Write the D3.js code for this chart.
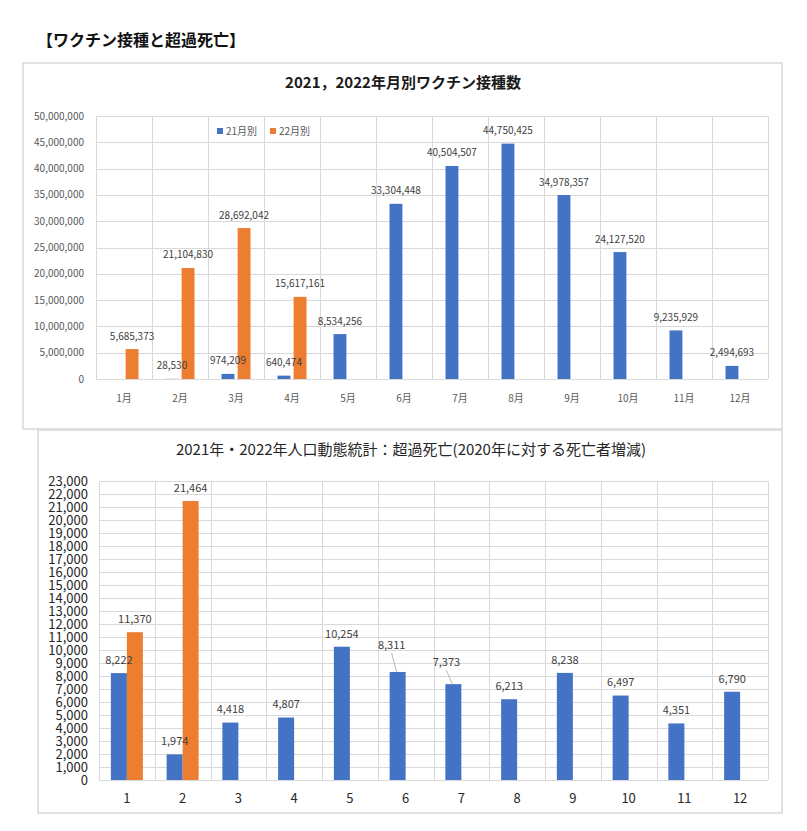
<!DOCTYPE html>
<html>
<head>
<meta charset="utf-8">
<script src="https://cdn.jsdelivr.net/npm/d3@7"></script>
<style>
  body { margin: 0; background: #fff; }
  svg { display: block; font-family: "Noto Sans CJK JP", "Noto Sans", sans-serif; }
  .grid line { stroke: #d9d9d9; stroke-width: 1; shape-rendering: crispEdges; }
  .panel { fill: #fff; stroke: #d9d9d9; stroke-width: 1.5; }
</style>
</head>
<body>
<svg id="chart" width="807" height="831"></svg>
<script>
// --- data: vaccination counts per month ---
const vaxMonths = [ '1月', '2月', '3月', '4月', '5月', '6月', '7月', '8月', '9月', '10月', '11月', '12月' ]
const vaxSeries = [ '21月別', '22月別' ]
const vax2021 = [ null, 28530, 974209, 640474, 8534256, 33304448, 40504507, 44750425, 34978357, 24127520, 9235929, 2494693 ]
const vax2022 = [ 5685373, 21104830, 28692042, 15617161, null, null, null, null, null, null, null, null ]
const vaxTicks = [ 0, 5000000, 10000000, 15000000, 20000000, 25000000, 30000000, 35000000, 40000000, 45000000, 50000000 ]

// --- data: excess deaths vs 2020 ---
const deathMonths = [ '1', '2', '3', '4', '5', '6', '7', '8', '9', '10', '11', '12' ]
const death2021 = [ 8222, 1974, 4418, 4807, 10254, 8311, 7373, 6213, 8238, 6497, 4351, 6790 ]
const death2022 = [ 11370, 21464, null, null, null, null, null, null, null, null, null, null ]
const deathTicks = d3.range( 0, 23001, 1000 )

const colors = { a: '#4472c4', b: '#ed7d31' }
const fmt = d3.format( ',' )

const svg = d3.select( '#chart' )

svg.append( 'text' )
    .attr( 'x', 37 )
    .attr( 'y', 46 )
    .attr( 'font-size', 16 )
    .attr( 'font-weight', 'bold' )
    .attr( 'fill', '#111' )
    .text( '【ワクチン接種と超過死亡】' )

// generic grouped bar chart inside a bordered panel
function drawChart( opts ) {
    const p = opts.panel, a = opts.plot

    svg.append( 'rect' ).attr( 'class', 'panel' )
        .attr( 'x', p.x ).attr( 'y', p.y ).attr( 'width', p.w ).attr( 'height', p.h )

    svg.append( 'text' )
        .attr( 'x', opts.titleX )
        .attr( 'y', opts.titleY )
        .attr( 'text-anchor', 'middle' )
        .attr( 'font-size', 15 )
        .attr( 'font-weight', opts.titleBold ? 'bold' : 'normal' )
        .attr( 'fill', opts.titleBold ? '#1a1a1a' : '#262626' )
        .text( opts.title )

    const x0 = d3.scaleBand().domain( opts.categories ).range( [ a.x0, a.x1 ] )
    const bw = x0.bandwidth()
    const x1 = d3.scaleBand().domain( [ 0, 1 ] )
        .range( [ bw / 2 - opts.groupHalf, bw / 2 + opts.groupHalf ] )
        .paddingInner( opts.innerPad )
    const y = d3.scaleLinear().domain( [ 0, opts.max ] ).range( [ a.y1, a.y0 ] )

    const grid = svg.append( 'g' ).attr( 'class', 'grid' )
    grid.selectAll( 'line.h' ).data( opts.ticks ).join( 'line' )
        .attr( 'x1', a.x0 ).attr( 'x2', a.x1 )
        .attr( 'y1', d => Math.round( y( d ) ) + 0.5 ).attr( 'y2', d => Math.round( y( d ) ) + 0.5 )
    grid.selectAll( 'line.v' ).data( opts.categories.concat( [ null ] ) ).join( 'line' )
        .attr( 'x1', d => Math.round( d === null ? a.x1 : x0( d ) ) + 0.5 )
        .attr( 'x2', d => Math.round( d === null ? a.x1 : x0( d ) ) + 0.5 )
        .attr( 'y1', a.y0 ).attr( 'y2', a.y1 )

    // y axis labels
    svg.append( 'g' ).selectAll( 'text' ).data( opts.ticks ).join( 'text' )
        .attr( 'x', opts.yLabelX )
        .attr( 'y', d => y( d ) )
        .attr( 'dy', '0.35em' )
        .attr( 'text-anchor', 'end' )
        .attr( 'font-size', opts.yFont )
        .attr( 'fill', opts.yColor )
        .text( d => fmt( d ) )

    // x axis labels
    svg.append( 'g' ).selectAll( 'text' ).data( opts.categories ).join( 'text' )
        .attr( 'x', d => x0( d ) + bw / 2 )
        .attr( 'y', opts.xLabelY )
        .attr( 'dy', '0.35em' )
        .attr( 'text-anchor', 'middle' )
        .attr( 'font-size', opts.xFont )
        .attr( 'fill', opts.xColor )
        .text( d => d )

    const nudges = opts.nudges || {}
    const bars = svg.append( 'g' ),
          labels = svg.append( 'g' )

    opts.series.forEach( ( values, s ) => {
        const pts = values.map( ( v, i ) => ( { v, i, cat: opts.categories[ i ] } ) ).filter( d => d.v !== null )

        bars.append( 'g' ).selectAll( 'rect' ).data( pts ).join( 'rect' )
            .attr( 'x', d => x0( d.cat ) + x1( s ) )
            .attr( 'width', x1.bandwidth() )
            .attr( 'y', d => y( d.v ) )
            .attr( 'height', d => y( 0 ) - y( d.v ) )
            .attr( 'fill', s === 0 ? colors.a : colors.b )

        pts.forEach( d => {
            const cx = x0( d.cat ) + x1( s ) + x1.bandwidth() / 2,
                  top = y( d.v ),
                  n = s === 0 ? nudges[ d.i ] : null,
                  lx = cx + ( n ? n[0] : 0 ),
                  ly = top - opts.labelGap + ( n ? n[1] : 0 )

            if( n ) {
                labels.append( 'line' )
                    .attr( 'x1', lx ).attr( 'y1', ly + 8 )
                    .attr( 'x2', cx - 1 ).attr( 'y2', top )
                    .attr( 'stroke', '#a6a6a6' ).attr( 'stroke-width', 0.8 )
            }

            labels.append( 'text' )
                .attr( 'x', lx )
                .attr( 'y', ly )
                .attr( 'dy', '0.35em' )
                .attr( 'text-anchor', 'middle' )
                .attr( 'font-size', opts.labelFont )
                .attr( 'fill', '#404040' )
                .text( fmt( d.v ) )
        } )
    } )

    if( opts.legend ) {
        const lg = svg.append( 'g' ).attr( 'transform', `translate( ${opts.legend.x}, ${opts.legend.y} )` )
        opts.legend.labels.forEach( ( label, i ) => {
            lg.append( 'rect' )
                .attr( 'x', i * 53 ).attr( 'y', -3 ).attr( 'width', 6 ).attr( 'height', 6 )
                .attr( 'fill', i === 0 ? colors.a : colors.b )
            lg.append( 'text' )
                .attr( 'x', i * 53 + 9 ).attr( 'y', 0 ).attr( 'dy', '0.35em' )
                .attr( 'font-size', 10 ).attr( 'fill', '#595959' )
                .text( label )
        } )
    }
}

drawChart( {
    panel: { x: 23, y: 63, w: 759, h: 366 },
    plot: { x0: 96, x1: 768, y0: 116, y1: 379 },
    title: '2021，2022年月別ワクチン接種数',
    titleBold: true,
    titleX: 403, titleY: 88,
    categories: vaxMonths,
    series: [ vax2021, vax2022 ],
    ticks: vaxTicks,
    max: 50000000,
    groupHalf: 14.5, innerPad: 0.2,
    yLabelX: 84, yFont: 10, yColor: '#595959',
    xLabelY: 398, xFont: 10, xColor: '#595959',
    labelFont: 10, labelGap: 13,
    legend: { x: 217, y: 131, labels: vaxSeries }
} )

drawChart( {
    panel: { x: 38, y: 430, w: 744, h: 383 },
    plot: { x0: 99, x1: 768, y0: 481, y1: 780 },
    title: '2021年・2022年人口動態統計：超過死亡(2020年に対する死亡者増減)',
    titleBold: false,
    titleX: 411, titleY: 455,
    categories: deathMonths,
    series: [ death2021, death2022 ],
    ticks: deathTicks,
    max: 23000,
    groupHalf: 16, innerPad: 0,
    yLabelX: 88, yFont: 13, yColor: '#262626',
    xLabelY: 798, xFont: 13, xColor: '#262626',
    labelFont: 11, labelGap: 13,
    nudges: { 5: [ -6, -14 ], 6: [ -7, -9 ] }
} )
</script>
</body>
</html>
